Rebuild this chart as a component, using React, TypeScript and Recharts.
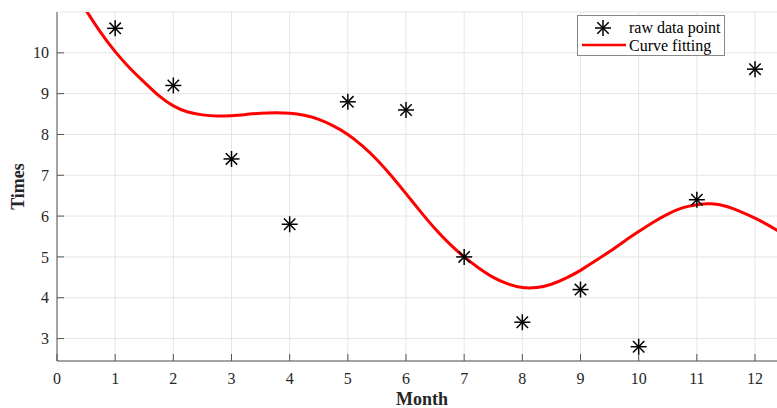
import { ComposedChart, Line, Scatter, XAxis, YAxis, CartesianGrid, Legend, Label } from 'recharts';

const months = [1, 2, 3, 4, 5, 6, 7, 8, 9, 10, 11, 12];
const rawTimes = [10.6, 9.2, 7.4, 5.8, 8.8, 8.6, 5.0, 3.4, 4.2, 2.8, 6.4, 9.6];

const fitX = [0.5, 0.75, 1, 1.25, 1.5, 1.75, 2, 2.25, 2.5, 2.75, 3, 3.25, 3.5, 3.75, 4, 4.25, 4.5, 4.75, 5, 5.25, 5.5, 5.75, 6, 6.25, 6.5, 6.75, 7, 7.25, 7.5, 7.75, 8, 8.25, 8.5, 8.75, 9, 9.25, 9.5, 9.75, 10, 10.25, 10.5, 10.75, 11, 11.25, 11.5, 11.75, 12, 12.25, 12.5, 12.6];
const fitY = [11.04, 10.5, 10.03, 9.63, 9.28, 8.95, 8.7, 8.55, 8.48, 8.45, 8.46, 8.49, 8.52, 8.53, 8.52, 8.47, 8.37, 8.21, 8.0, 7.72, 7.38, 6.98, 6.55, 6.11, 5.69, 5.32, 5.0, 4.73, 4.5, 4.34, 4.25, 4.25, 4.33, 4.48, 4.67, 4.9, 5.13, 5.38, 5.62, 5.85, 6.05, 6.2, 6.28, 6.3, 6.24, 6.11, 5.95, 5.76, 5.55, 5.47];

const xTicks = [0, 1, 2, 3, 4, 5, 6, 7, 8, 9, 10, 11, 12];
const yTicks = [3, 4, 5, 6, 7, 8, 9, 10];

const rawData = months.map((m, i) => ({ x: m, y: rawTimes[i] }));
const fitData = fitX.map((x, i) => ({ x, y: fitY[i] }));

const FONT = '"Liberation Serif", "Times New Roman", serif';
const AXIS = '#555';
const TXT = '#262626';

const Star = (props: any) => {
  const { cx, cy } = props;
  if (cx == null || cy == null) return null;
  const r = 8;
  const d = 5.7;
  return (
    <g stroke="#000" strokeWidth={1.5}>
      <line x1={cx} y1={cy - r} x2={cx} y2={cy + r} />
      <line x1={cx - r} y1={cy} x2={cx + r} y2={cy} />
      <line x1={cx - d} y1={cy - d} x2={cx + d} y2={cy + d} />
      <line x1={cx - d} y1={cy + d} x2={cx + d} y2={cy - d} />
    </g>
  );
};

const BottomTick = (props: any) => {
  const { x, y, payload } = props;
  return (
    <g>
      <line x1={x} y1={y - 12} x2={x} y2={y - 19} stroke={AXIS} />
      <text x={x} y={y} dy="0.71em" textAnchor="middle" fill={TXT} fontSize={16} fontFamily={FONT}>
        {payload.value}
      </text>
    </g>
  );
};

const TopTick = (props: any) => {
  const { x, y } = props;
  return <line x1={x} y1={y} x2={x} y2={y + 7} stroke={AXIS} />;
};

const LeftTick = (props: any) => {
  const { x, y, payload } = props;
  return (
    <g>
      <line x1={x + 8} y1={y} x2={x + 15} y2={y} stroke={AXIS} />
      <text x={x} y={y} dy="0.355em" textAnchor="end" fill={TXT} fontSize={16} fontFamily={FONT}>
        {payload.value}
      </text>
    </g>
  );
};

const LegendBox = () => (
  <div
    style={{
      width: 146,
      height: 39,
      border: '1px solid #888',
      background: '#fff',
      fontFamily: FONT,
      fontSize: 16,
      color: '#000',
      position: 'relative',
    }}
  >
    <svg width={146} height={39} style={{ position: 'absolute', left: 0, top: 0 }}>
      <Star cx={25} cy={12} />
      <line x1={4} y1={29} x2={48} y2={29} stroke="#ff0000" strokeWidth={2.5} />
      <text x={51} y={17} fontSize={16} fontFamily={FONT}>raw data point</text>
      <text x={51} y={35} fontSize={16} fontFamily={FONT}>Curve fitting</text>
    </svg>
  </div>
);

export default function App() {
  return (
    <div style={{ position: 'absolute', left: 0, top: 0, width: 777, height: 408, overflow: 'hidden', background: '#fff' }}>
      <ComposedChart width={787} height={408} margin={{ top: 12, right: 0, left: 0, bottom: 0 }}>
        <CartesianGrid stroke="#e5e5e5" strokeWidth={1} />
        <XAxis
          xAxisId="top"
          orientation="top"
          type="number"
          dataKey="x"
          domain={[0, 12.55]}
          ticks={xTicks}
          allowDataOverflow
          height={0}
          tickSize={0}
          tickMargin={0}
          tickLine={false}
          tick={<TopTick />}
          stroke={AXIS}
        />
        <XAxis
          type="number"
          dataKey="x"
          domain={[0, 12.55]}
          ticks={xTicks}
          allowDataOverflow
          height={47}
          tickSize={0}
          tickMargin={12}
          tickLine={false}
          tick={<BottomTick />}
          stroke={AXIS}
        >
          <Label value="Month" position="insideBottom" offset={3} fill={TXT} fontSize={18} fontWeight="bold" fontFamily={FONT} />
        </XAxis>
        <YAxis
          type="number"
          dataKey="y"
          domain={[2.45, 11]}
          ticks={yTicks}
          allowDataOverflow
          width={57}
          tickSize={0}
          tickMargin={8}
          tickLine={false}
          tick={<LeftTick />}
          stroke={AXIS}
        >
          <Label value="Times" angle={-90} position="insideLeft" offset={18} fill={TXT} fontSize={18} fontWeight="bold" fontFamily={FONT} style={{ textAnchor: 'middle' }} />
        </YAxis>
        <Legend
          layout="vertical"
          align="center"
          verticalAlign="middle"
          wrapperStyle={{ left: 577, top: 15, width: 148, height: 41 }}
          content={() => <LegendBox />}
        />
        <Line
          data={fitData}
          dataKey="y"
          type="natural"
          stroke="#ff0000"
          strokeWidth={3}
          dot={false}
          activeDot={false}
          isAnimationActive={false}
        />
        <Scatter data={rawData} dataKey="y" shape={<Star />} isAnimationActive={false} />
      </ComposedChart>
    </div>
  );
}
